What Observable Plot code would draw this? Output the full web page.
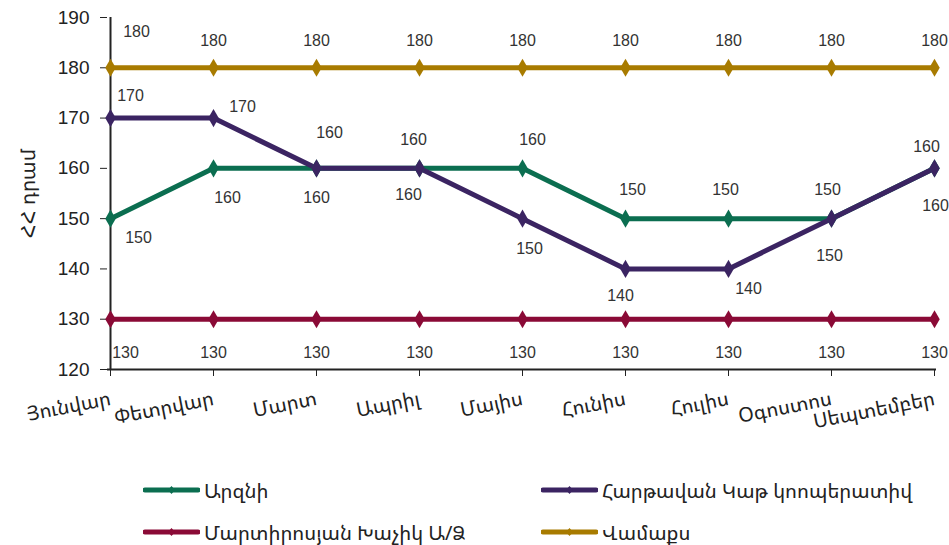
<!DOCTYPE html>
<html>
<head>
<meta charset="utf-8">
<script src="https://cdn.jsdelivr.net/npm/d3@7"></script>
<script src="https://cdn.jsdelivr.net/npm/@observablehq/plot@0.6"></script>
<style>
  html, body { margin: 0; padding: 0; background: #fff; }
  #wrap { position: relative; width: 949px; height: 545px; overflow: hidden; }
  #legend { position: absolute; left: 0; top: 445px; width: 949px; height: 100px; }
  .item { position: absolute; display: flex; align-items: center; font-family: "Noto Sans Armenian", "DejaVu Sans", sans-serif; font-size: 20px; color: #222; }
  .item svg { margin-right: 4px; }
</style>
</head>
<body>
<div id="wrap"><div id="chart"></div><div id="legend"></div></div>
<script>
const months = ["Յունվար", "Փետրվար", "Մարտ", "Ապրիլ", "Մայիս", "Հունիս", "Հուլիս", "Օգոստոս", "Սեպտեմբեր"];
const seriesNames = ["Արզնի", "Հարթավան Կաթ կոոպերատիվ", "Մարտիրոսյան Խաչիկ Ա/Ձ", "Վամաքս"];
const arzni = [150, 160, 160, 160, 160, 150, 150, 150, 160];
const hartavan = [170, 170, 160, 160, 150, 140, 140, 150, 160];
const martirosyan = [130, 130, 130, 130, 130, 130, 130, 130, 130];
const vamaks = [180, 180, 180, 180, 180, 180, 180, 180, 180];
const yTicks = [120, 130, 140, 150, 160, 170, 180, 190];
const yTitle = "ՀՀ դրամ";

// styling / layout (not data)
const colors = ["#0b6e50", "#3b2462", "#8a0a36", "#a87b00"];
const labelOffsets = [
  [[28, 19], [14, 30], [0, 30], [-11, 27], [10, -28], [7, -29], [-3, -29], [-4, -29], [-8, -21]],
  [[20, -22], [29, -11], [13, -35], [-6, -28], [7, 30], [-5, 27], [20, 20], [-2, 37], [1, 38]],
  [[15, 34], [0, 34], [0, 34], [0, 34], [0, 34], [0, 34], [0, 34], [0, 34], [0, 34]],
  [[26, -36], [0, -27], [0, -27], [0, -27], [0, -27], [0, -27], [0, -27], [0, -27], [0, -27]]
];

const seriesValues = [arzni, hartavan, martirosyan, vamaks];
const rows = [];
seriesNames.forEach((s, si) => {
  seriesValues[si].forEach((v, mi) => rows.push({series: s, si, mi, month: months[mi], value: v}));
});

const numFont = "'Liberation Sans', Arial, sans-serif";
const armFont = "'Noto Sans Armenian', 'DejaVu Sans', sans-serif";

const labelMarks = rows.map(r => Plot.text([r], {
  x: "month", y: "value", text: d => String(d.value),
  dx: labelOffsets[r.si][r.mi][0], dy: labelOffsets[r.si][r.mi][1],
  fontSize: 16, fill: "#333", fontFamily: numFont
}));

const chart = Plot.plot({
  width: 949,
  height: 445,
  marginLeft: 107,
  marginRight: 13,
  marginTop: 17,
  marginBottom: 76,
  x: {type: "point", domain: months, padding: 0},
  y: {domain: [120, 190]},
  color: {domain: seriesNames, range: colors},
  marks: [
    Plot.axisY({ticks: yTicks, tickSize: 7, tickPadding: 11, fontSize: 19, fontFamily: numFont, stroke: "#222", fill: "#222",
      label: yTitle, labelAnchor: "center", labelArrow: "none", labelOffset: 86}),
    Plot.axisX({tickSize: 7, tickPadding: 22, tickRotate: -11, fontSize: 20, fontFamily: armFont, stroke: "#222", fill: "#222", label: null}),
    Plot.ruleX([months[0]], {stroke: "#222", strokeWidth: 2}),
    Plot.ruleY([120], {stroke: "#222", strokeWidth: 2}),
    Plot.line(rows, {x: "month", y: "value", z: "series", stroke: "series", strokeWidth: 5}),
    Plot.dot(rows, {x: "month", y: "value", fill: "series", symbol: "diamond", r: 5.5}),
    ...labelMarks
  ]
});
chart.style.fontFamily = numFont;
chart.style.overflow = "visible";
document.getElementById("chart").appendChild(chart);

// legend
const legend = document.getElementById("legend");
const pos = [[143, 45], [541, 45], [143, 87], [541, 87]];
seriesNames.forEach((s, i) => {
  const div = document.createElement("div");
  div.className = "item";
  div.style.left = pos[i][0] + "px";
  div.style.top = (pos[i][1] - 13) + "px";
  div.style.height = "26px";
  div.innerHTML = `<svg width="57" height="14"><line x1="2" y1="7" x2="55" y2="7" stroke="${colors[i]}" stroke-width="5" stroke-linecap="round"/><path d="M28.5,3 L32,7 L28.5,11 L25,7Z" fill="${colors[i]}"/></svg><span>${s}</span>`;
  legend.appendChild(div);
});
</script>
</body>
</html>
